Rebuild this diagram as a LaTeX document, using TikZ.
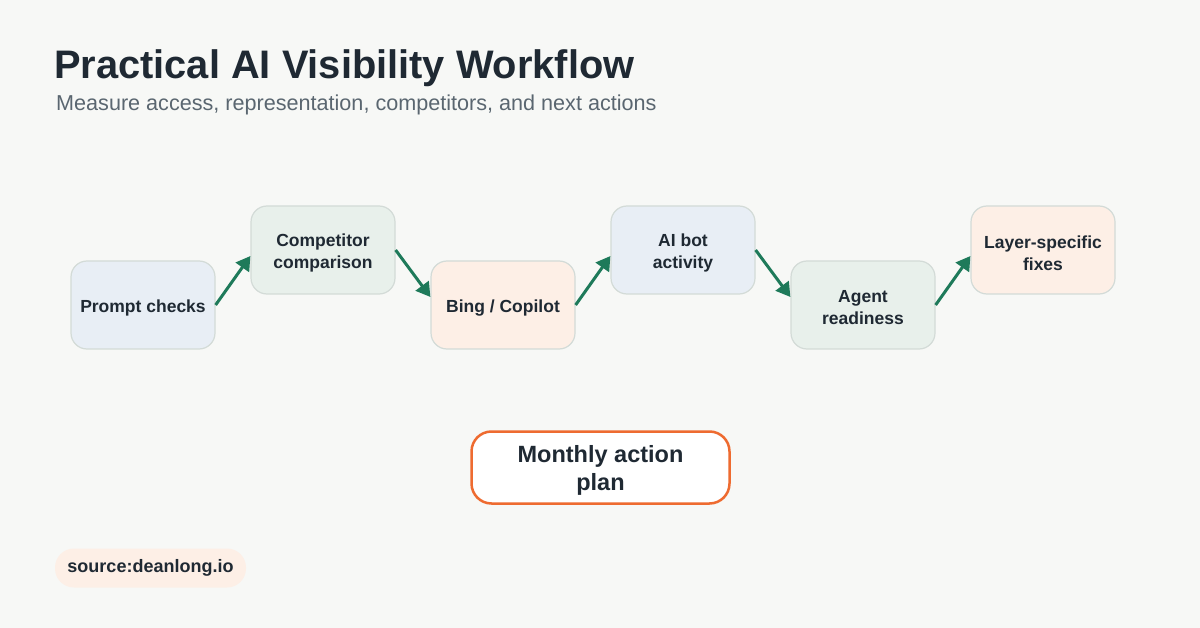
\documentclass[tikz,border=0pt]{standalone}
\usepackage{fontspec}
\setmainfont{Liberation Sans}
\usetikzlibrary{arrows.meta}
\definecolor{bg}{HTML}{F7F8F6}
\definecolor{cblue}{HTML}{E8EEF5}
\definecolor{cgreen}{HTML}{E8F0EB}
\definecolor{corange}{HTML}{FDEFE6}
\definecolor{bord}{HTML}{D3DBD7}
\definecolor{arr}{HTML}{1E7A5A}
\definecolor{ink}{HTML}{1F2933}
\definecolor{sub}{HTML}{5A6670}
\definecolor{orng}{HTML}{EE6B30}
\begin{document}
\begin{tikzpicture}[x=1pt,y=-1pt,
  box/.style={draw=bord,line width=1.2pt,rounded corners=16pt,minimum width=144pt,minimum height=88pt,inner sep=0pt},
  lab/.style={align=center,font=\bfseries\fontsize{17.5}{22}\selectfont,text=ink,inner sep=0pt},
  conn/.style={draw=arr,line width=3pt,-{Triangle[length=14pt,width=16pt]}}]
\fill[bg] (0,0) rectangle (1200,628);
\useasboundingbox (0,0) rectangle (1200,628);
\node[anchor=base west,inner sep=0pt,font=\bfseries\fontsize{39.8}{46}\selectfont,text=ink] (title) at (54,79) {Practical AI Visibility Workflow};
\node[anchor=base west,inner sep=0pt,font=\fontsize{21.6}{26}\selectfont,text=sub] (subt) at (56,111) {Measure access, representation, competitors, and next actions};
\node[box,fill=cblue] (a) at (143,305) {};
\node[box,fill=cgreen] (b) at (323,250) {};
\node[box,fill=corange] (c) at (503,305) {};
\node[box,fill=cblue] (d) at (683,250) {};
\node[box,fill=cgreen] (e) at (863,305) {};
\node[box,fill=corange] (f) at (1043,250) {};
\node[lab] (ta) at (143,308) {Prompt checks};
\node[lab] (tb) at (323,253) {Competitor\\comparison};
\node[lab] (tc) at (503,308) {Bing / Copilot};
\node[lab] (td) at (683,253) {AI bot\\activity};
\node[lab] (te) at (863,308) {Agent\\readiness};
\node[lab] (tf) at (1043,253) {Layer-specific\\fixes};
\draw[conn] (a.east) -- ([yshift=-6pt]b.west);
\draw[conn] (b.east) -- ([yshift=8pt]c.west);
\draw[conn] (c.east) -- ([yshift=-6pt]d.west);
\draw[conn] (d.east) -- ([yshift=8pt]e.west);
\draw[conn] (e.east) -- ([yshift=-6pt]f.west);
\node[draw=orng,fill=white,line width=2.5pt,rounded corners=20pt,minimum width=258pt,minimum height=72pt,inner sep=0pt] (m) at (600.5,467.5) {};
\node[align=center,inner sep=0pt,font=\bfseries\fontsize{23.5}{28}\selectfont,text=ink] (tm) at (600.5,470) {Monthly action\\plan};
\node[fill=corange,rounded corners=19pt,minimum width=191pt,minimum height=39pt,font=\bfseries\fontsize{18}{22}\selectfont,text=ink] (s) at (150.5,568) {source:deanlong.io};
\end{tikzpicture}
\end{document}
